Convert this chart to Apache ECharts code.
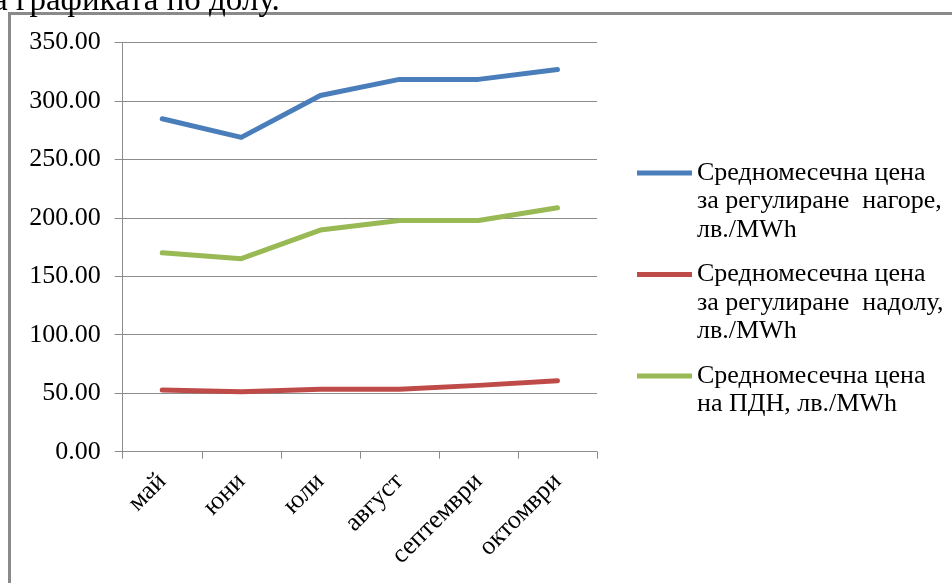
<!DOCTYPE html>
<html>
<head>
<meta charset="utf-8">
<script src="https://cdn.jsdelivr.net/npm/echarts@6/dist/echarts.min.js"></script>
<style>
html,body{margin:0;padding:0;background:#fff;}
#chart{width:952px;height:583px;}
</style>
</head>
<body>
<div id="chart"></div>
<script>
const categories = ['май', 'юни', 'юли', 'август', 'септември', 'октомври'];
const upPrice = [284.6, 268.7, 304.5, 318.3, 318.3, 326.8];
const downPrice = [52.7, 51.3, 53.3, 53.3, 56.7, 60.7];
const pdnPrice = [170.0, 165.0, 189.5, 197.7, 197.7, 208.5];
const seriesNames = [
  'Средномесечна цена\nза регулиране  нагоре,\nлв./MWh',
  'Средномесечна цена\nза регулиране  надолу,\nлв./MWh',
  'Средномесечна цена\nна ПДН, лв./MWh'
];
const yTicks = { min: 0, max: 350, interval: 50 };
const headerText = 'а графиката по долу.';

const FONT = 'Liberation Serif';
const LH = 28.5;
const colors = ['#4A7EBB', '#BE4B48', '#98B954'];

const chart = echarts.init(document.getElementById('chart'), null, { renderer: 'canvas' });

// Put the first text line of every legend entry level with its line icon:
// pad each label to 5 lines, with 2 empty lines before the real text.
function legendLabel(name) {
  const n = name.split('\n').length;
  let s = '\u00a0\n\u00a0\n' + name;
  for (let i = n; i < 3; i++) s += '\n\u00a0';
  return s;
}

const option = {
  animation: false,
  backgroundColor: '#fff',
  color: colors,
  textStyle: { fontFamily: FONT },
  graphic: [
    {
      type: 'text',
      silent: true,
      left: -7,
      top: -15.5,
      style: { text: headerText, font: '33px "Liberation Serif"', fill: '#000' }
    },
    {
      type: 'rect',
      silent: true,
      shape: { x: 9.5, y: 13.5, width: 1200, height: 1200 },
      style: { fill: '#fff', stroke: '#8a8a8a', lineWidth: 3 },
      z: -10
    }
  ],
  grid: { left: 122.7, right: 355, top: 42.3, bottom: 131.3, containLabel: false },
  legend: {
    orient: 'vertical',
    left: 637,
    top: 173 - 2.5 * LH,
    padding: 0,
    itemGap: -41,
    itemWidth: 55,
    itemHeight: 5,
    icon: 'rect',
    align: 'left',
    selectedMode: false,
    formatter: legendLabel,
    textStyle: { fontFamily: FONT, fontSize: 26, lineHeight: LH, color: '#000' },
    data: seriesNames
  },
  xAxis: {
    type: 'category',
    data: categories,
    boundaryGap: true,
    axisLine: { show: true, lineStyle: { color: '#8c8c8c', width: 1 } },
    axisTick: { show: true, length: 7, inside: false, lineStyle: { color: '#8c8c8c' } },
    axisLabel: { rotate: 45, margin: 26, fontFamily: FONT, fontSize: 26, color: '#000', interval: 0 },
    splitLine: { show: false }
  },
  yAxis: {
    type: 'value',
    min: yTicks.min,
    max: yTicks.max,
    interval: yTicks.interval,
    axisLine: { show: true, lineStyle: { color: '#8c8c8c', width: 1 } },
    axisTick: { show: true, length: 8, inside: false, lineStyle: { color: '#8c8c8c' } },
    axisLabel: {
      margin: 22,
      fontFamily: FONT,
      fontSize: 26,
      color: '#000',
      formatter: v => v.toFixed(2)
    },
    splitLine: { show: true, lineStyle: { color: '#8c8c8c', width: 1 } }
  },
  series: [
    { name: seriesNames[0], type: 'line', data: upPrice, symbol: 'none',
      lineStyle: { width: 5, color: colors[0], cap: 'round', join: 'round' }, itemStyle: { color: colors[0] } },
    { name: seriesNames[1], type: 'line', data: downPrice, symbol: 'none',
      lineStyle: { width: 5, color: colors[1], cap: 'round', join: 'round' }, itemStyle: { color: colors[1] } },
    { name: seriesNames[2], type: 'line', data: pdnPrice, symbol: 'none',
      lineStyle: { width: 5, color: colors[2], cap: 'round', join: 'round' }, itemStyle: { color: colors[2] } }
  ]
};
chart.setOption(option);
</script>
</body>
</html>
